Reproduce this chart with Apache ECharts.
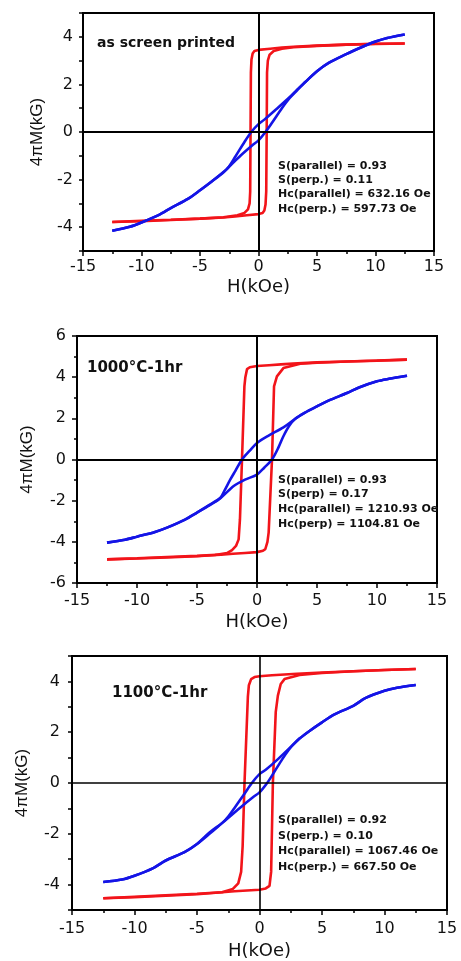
<!DOCTYPE html>
<html>
<head>
<meta charset="utf-8">
<script src="https://cdn.jsdelivr.net/npm/echarts@6/dist/echarts.min.js"></script>
<style>
html,body{margin:0;padding:0;background:#fff;}
#chart{width:461px;height:961px;}
</style>
</head>
<body>
<div id="chart"></div>
<script>
// ---- Data: [H (kOe), 4πM (kG)] ----
// Panel 1: as screen printed
var p1ParUp = [[12.5,3.72],[10,3.70],[7.5,3.67],[5,3.63],[3,3.58],[2,3.55],[1,3.50],[0,3.45],[-0.35,3.40],[-0.5,3.30],[-0.6,3.05],[-0.65,2.5],[-0.68,0],[-0.71,-2.5],[-0.76,-3.0],[-0.9,-3.25],[-1.2,-3.40],[-1.8,-3.50],[-3,-3.58],[-5,-3.64],[-7.5,-3.70],[-10,-3.75],[-12.5,-3.78]];
var p1ParDn = [[-12.5,-3.78],[-10,-3.73],[-7.5,-3.69],[-5,-3.64],[-3,-3.59],[-2,-3.55],[-1,-3.50],[0,-3.45],[0.35,-3.40],[0.5,-3.30],[0.6,-3.05],[0.66,-2.5],[0.7,0],[0.73,2.5],[0.8,3.0],[0.95,3.25],[1.3,3.40],[2,3.50],[3,3.56],[5,3.62],[7.5,3.67],[10,3.71],[12.5,3.72]];
var p1PerUp = [[12.5,4.1],[11,3.95],[10,3.8],[8.5,3.5],[7.5,3.27],[6,2.9],[5,2.55],[4,2.1],[3.3,1.78],[2.65,1.46],[1.5,0.95],[0.5,0.52],[0,0.33],[-0.62,0],[-1.2,-0.42],[-2,-1.05],[-2.6,-1.5],[-3,-1.68],[-4,-2.08],[-5,-2.45],[-6,-2.8],[-7.5,-3.2],[-8.5,-3.48],[-10,-3.8],[-11,-3.98],[-12.5,-4.15]];
var p1PerDn = [[-12.5,-4.15],[-11,-3.98],[-10,-3.8],[-8.5,-3.48],[-7.5,-3.2],[-6,-2.8],[-5,-2.45],[-4,-2.08],[-3,-1.7],[-2.6,-1.5],[-1.5,-0.98],[-0.5,-0.55],[0,-0.35],[0.6,0],[1.2,0.42],[2,1.0],[2.65,1.42],[3.3,1.75],[4,2.1],[5,2.55],[6,2.9],[7.5,3.27],[8.5,3.5],[10,3.8],[11,3.95],[12.5,4.1]];

// Panel 2: 1000°C-1hr
var p2ParUp = [[12.5,4.85],[10,4.80],[7.5,4.76],[5,4.72],[3,4.66],[2,4.62],[1,4.58],[0,4.54],[-0.6,4.48],[-0.83,4.39],[-0.97,4.0],[-1.05,3.55],[-1.25,0],[-1.42,-2.9],[-1.53,-3.88],[-1.75,-4.2],[-2.08,-4.4],[-2.5,-4.55],[-3.5,-4.64],[-5,-4.7],[-7.5,-4.76],[-10,-4.81],[-12.5,-4.85]];
var p2ParDn = [[-12.5,-4.85],[-10,-4.80],[-7.5,-4.74],[-5,-4.68],[-3,-4.62],[-2,-4.58],[-1,-4.54],[0,-4.5],[0.5,-4.43],[0.69,-4.36],[0.87,-4.0],[0.97,-3.55],[1.25,0],[1.42,3.55],[1.66,4.04],[2.2,4.44],[3.6,4.65],[5,4.7],[7.5,4.76],[10,4.81],[12.5,4.85]];
var p2PerUp = [[12.5,4.07],[11,3.92],[10,3.8],[8.5,3.5],[7.5,3.23],[6,2.87],[5,2.58],[4,2.28],[3.19,1.98],[2.2,1.56],[1,1.17],[0,0.8],[-0.6,0.43],[-1.25,0],[-1.8,-0.55],[-2.22,-0.97],[-2.7,-1.5],[-3.05,-1.86],[-4,-2.22],[-5,-2.58],[-6,-2.92],[-7.5,-3.31],[-8.5,-3.52],[-10,-3.75],[-11,-3.9],[-12.5,-4.04]];
var p2PerDn = [[-12.5,-4.04],[-11,-3.9],[-10,-3.75],[-8.5,-3.52],[-7.5,-3.31],[-6,-2.92],[-5,-2.58],[-4,-2.24],[-3.05,-1.88],[-1.94,-1.29],[-1,-0.98],[0,-0.73],[0.6,-0.4],[1.25,0],[1.8,0.6],[2.2,1.13],[2.7,1.65],[3.19,1.98],[4,2.28],[5,2.58],[6,2.87],[7.5,3.23],[8.5,3.5],[10,3.8],[11,3.92],[12.5,4.07]];

// Panel 3: 1100°C-1hr
var p3ParUp = [[12.5,4.49],[10,4.45],[7.5,4.4],[5,4.35],[3,4.3],[2,4.27],[1,4.24],[0,4.2],[-0.4,4.17],[-0.67,4.09],[-0.85,3.85],[-0.93,3.4],[-1.2,0],[-1.35,-2.5],[-1.47,-3.5],[-1.7,-3.95],[-2.13,-4.17],[-3,-4.3],[-5,-4.38],[-7.5,-4.44],[-10,-4.5],[-12.5,-4.54]];
var p3ParDn = [[-12.5,-4.54],[-10,-4.48],[-7.5,-4.42],[-5,-4.36],[-3,-4.3],[-2,-4.26],[-1,-4.23],[0,-4.2],[0.5,-4.15],[0.8,-4.05],[0.93,-3.5],[1.07,0],[1.3,2.8],[1.47,3.44],[1.7,3.9],[2.0,4.09],[3.2,4.25],[5,4.33],[7.5,4.4],[10,4.45],[12.5,4.49]];
var p3PerUp = [[12.5,3.86],[11,3.75],[10,3.63],[8.5,3.35],[7.5,3.04],[6,2.7],[5,2.39],[4,2.05],[3.2,1.75],[2.67,1.5],[1.5,0.95],[0.5,0.52],[0,0.35],[-0.61,0],[-1.2,-0.42],[-2,-0.98],[-2.5,-1.32],[-2.93,-1.55],[-4,-1.95],[-5,-2.4],[-6,-2.72],[-7.5,-3.05],[-8.5,-3.35],[-10,-3.65],[-11,-3.8],[-12.5,-3.9]];
var p3PerDn = [[-12.5,-3.9],[-11,-3.8],[-10,-3.65],[-8.5,-3.35],[-7.5,-3.05],[-6,-2.72],[-5,-2.4],[-4,-2.0],[-2.93,-1.55],[-1.5,-0.95],[-0.5,-0.55],[0,-0.37],[0.61,0],[1.2,0.45],[1.8,0.92],[2.3,1.28],[2.67,1.5],[3.2,1.75],[4,2.05],[5,2.39],[6,2.7],[7.5,3.04],[8.5,3.35],[10,3.63],[11,3.75],[12.5,3.86]];

var xTicks = [-15, -10, -5, 0, 5, 10, 15];
var yRanges = [[-5, 5], [-6, 6], [-5, 5]];
var xTitle = 'H(kOe)';
var yTitle = '4πM(kG)';
var panelLabels = ['as screen printed', '1000°C-1hr', '1100°C-1hr'];
var statsText = [
  ['S(parallel) = 0.93', 'S(perp.) = 0.11', 'Hc(parallel) = 632.16 Oe', 'Hc(perp.) = 597.73 Oe'],
  ['S(parallel) = 0.93', 'S(perp) = 0.17', 'Hc(parallel) = 1210.93 Oe', 'Hc(perp) = 1104.81 Oe'],
  ['S(parallel) = 0.92', 'S(perp.) = 0.10', 'Hc(parallel) = 1067.46 Oe', 'Hc(perp.) = 667.50 Oe']
];

// ---- Layout ----
var FONT = '"Liberation Sans", Arial, sans-serif';
var WFONT = '"DejaVu Sans", sans-serif';
var grids = [
  {left: 83, top: 13, width: 351, height: 238},
  {left: 77, top: 336, width: 360, height: 247},
  {left: 72, top: 656, width: 375, height: 255}
];
var xNameGap = [27, 30, 32];
var xLabelMargin = [8, 10, 11];
var yNameGap = [34, 41, 41];
var yLabelMargin = [10, 11, 12];

var RED = '#f2141a', BLUE = '#1414e6';
var panels = [
  [p1ParUp, p1ParDn, p1PerUp, p1PerDn],
  [p2ParUp, p2ParDn, p2PerUp, p2PerDn],
  [p3ParUp, p3ParDn, p3PerUp, p3PerDn]
];

var option = {
  animation: false,
  backgroundColor: '#fff',
  grid: grids.map(function (g) {
    return Object.assign({show: true, borderColor: '#000', borderWidth: 2, backgroundColor: 'transparent'}, g);
  }),
  xAxis: grids.map(function (g, i) {
    return {
      type: 'value', gridIndex: i, min: xTicks[0], max: xTicks[xTicks.length - 1], interval: 5,
      name: xTitle, nameLocation: 'middle', nameGap: xNameGap[i],
      nameTextStyle: {fontFamily: WFONT, fontSize: 18, color: '#111'},
      axisLine: {show: true, onZero: false, lineStyle: {color: '#000', width: 2}},
      axisTick: {show: true, length: 5, lineStyle: {color: '#000', width: 1.5}},
      minorTick: {show: true, splitNumber: 2, length: 3, lineStyle: {color: '#000', width: 1.5}},
      axisLabel: {fontFamily: WFONT, fontSize: 16, color: '#111', margin: xLabelMargin[i]},
      splitLine: {show: false}
    };
  }),
  yAxis: grids.map(function (g, i) {
    var r = yRanges[i];
    var even = (r[0] % 2 === 0);
    return {
      type: 'value', gridIndex: i, min: r[0], max: r[1], interval: even ? 2 : 1,
      name: yTitle, nameLocation: 'middle', nameGap: yNameGap[i],
      nameTextStyle: {fontFamily: FONT, fontSize: 17, color: '#111'},
      axisLine: {show: true, onZero: false, lineStyle: {color: '#000', width: 2}},
      axisTick: {show: true, length: even ? 5 : 4, lineStyle: {color: '#000', width: 1.5}},
      minorTick: {show: even, splitNumber: 2, length: 3, lineStyle: {color: '#000', width: 1.5}},
      axisLabel: {
        fontFamily: WFONT, fontSize: 16, color: '#111', margin: yLabelMargin[i],
        formatter: function (v) { return (Math.abs(v) % 2 === 0) ? String(v) : ''; }
      },
      splitLine: {show: false}
    };
  }),
  series: [],
  graphic: []
};

panels.forEach(function (p, i) {
  var common = {type: 'line', xAxisIndex: i, yAxisIndex: i, showSymbol: false, symbol: 'none', silent: true};
  option.series.push(Object.assign({}, common, {
    data: p[0], smooth: false, lineStyle: {color: RED, width: 2.6},
    markLine: {
      silent: true, symbol: 'none', label: {show: false},
      lineStyle: {color: '#000', width: i === 2 ? 1.6 : 2, type: 'solid'},
      data: [{xAxis: 0}, {yAxis: 0}]
    }
  }));
  option.series.push(Object.assign({}, common, {data: p[1], smooth: false, lineStyle: {color: RED, width: 2.6}}));
  option.series.push(Object.assign({}, common, {data: p[2], smooth: 0.3, lineStyle: {color: BLUE, width: 2.6}}));
  option.series.push(Object.assign({}, common, {data: p[3], smooth: 0.3, lineStyle: {color: BLUE, width: 2.6}}));
});

// Annotations
var labelPos = [[97, 43, 14], [87, 368, 15], [112, 693, 15]];
var statsY = [[166, 180, 194, 209], [480, 494, 509, 524], [820, 836, 851, 867]];
labelPos.forEach(function (lp, i) {
  option.graphic.push({
    type: 'text', x: lp[0], y: lp[1], silent: true,
    style: {text: panelLabels[i], font: 'bold ' + lp[2] + 'px ' + WFONT, fill: '#111', verticalAlign: 'middle'}
  });
  statsText[i].forEach(function (t, j) {
    option.graphic.push({
      type: 'text', x: 278, y: statsY[i][j], silent: true,
      style: {text: t, font: 'bold 11px ' + WFONT, fill: '#111', verticalAlign: 'middle'}
    });
  });
});

var chart = echarts.init(document.getElementById('chart'), null, {renderer: 'canvas'});
chart.setOption(option);
</script>
</body>
</html>
